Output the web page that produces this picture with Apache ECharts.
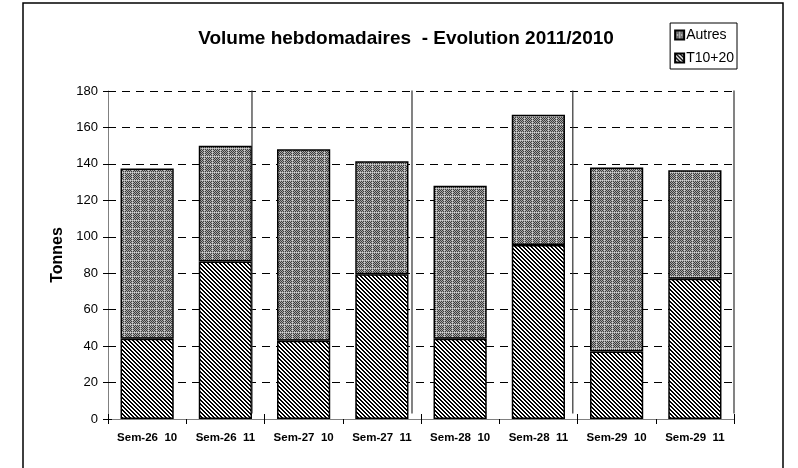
<!DOCTYPE html>
<html><head><meta charset="utf-8">
<script src="https://cdn.jsdelivr.net/npm/echarts@6/dist/echarts.min.js"></script>
<style>html,body{margin:0;padding:0;background:#fff}#c{width:798px;height:468px}</style>
</head><body><div id="c"></div>
<script>
var categories = ['Sem-26  10','Sem-26  11','Sem-27  10','Sem-27  11','Sem-28  10','Sem-28  11','Sem-29  10','Sem-29  11'];
var t1020 = [44, 86.5, 43, 79.5, 44, 95.5, 37, 77];
var autres = [93.5, 63.5, 105, 62, 84, 71.5, 101, 59.5];
var yTicks = [0,20,40,60,80,100,120,140,160,180];
var separators = [1.84, 3.885, 5.94, 8.0];

function makePattern(kind){
  var c = document.createElement('canvas');
  var ctx;
  if(kind==='stripe'){
    c.width=4;c.height=4;ctx=c.getContext('2d');
    ctx.fillStyle='#fff';ctx.fillRect(0,0,4,4);
    ctx.fillStyle='#000';
    for(var y=0;y<4;y++)for(var x=0;x<4;x++){var d=((x-y)%4+4)%4;if(d<2)ctx.fillRect(x,y,1,1);}
  } else {
    c.width=8;c.height=8;ctx=c.getContext('2d');
    for(var y=0;y<8;y++)for(var x=0;x<8;x++){
      var v=((x+y)%2===0)?'#3c3c3c':'#a8a8a8';
      if((x===4||y===4)&&((x+y)%2===0))v='#d0d0d0';
      ctx.fillStyle=v;ctx.fillRect(x,y,1,1);
    }
  }
  return c;
}
var grayPat = {image: makePattern('grey'), repeat:'repeat'};
var stripePat = {image: makePattern('stripe'), repeat:'repeat'};

var chart = echarts.init(document.getElementById('c'), null, {renderer:'canvas'});
var F = 'Liberation Sans, Arial, sans-serif';
var sepSeries = separators.map(function(x){
  return {name:'sep', type:'line', xAxisIndex:1, yAxisIndex:0, data:[[x,3],[x,183]],
    symbol:'none', silent:true, lineStyle:{color:'#303030', width:1.2}, z:3};
});
chart.setOption({
  animation:false,
  title:{text:'Volume hebdomadaires  - Evolution 2011/2010', left:401, top:24, textAlign:'center',
    textStyle:{fontFamily:F, fontSize:19, fontWeight:'bold', color:'#000'}},
  legend:{right:61, top:23, orient:'vertical', itemWidth:9, itemHeight:9, itemGap:9,
    padding:[5,3,4,4], borderColor:'#000', borderWidth:1, borderRadius:0,
    textStyle:{fontFamily:F, fontSize:14, color:'#000', padding:[0,0,0,-3]},
    data:[{name:'Autres', icon:'rect'},{name:'T10+20', icon:'rect'}]},
  grid:{left:108, right:64, top:91, bottom:49},
  xAxis:[{type:'category', data:categories, boundaryGap:true,
    axisLine:{lineStyle:{color:'#808080', width:1}},
    axisTick:{show:true, length:5, alignWithLabel:false, lineStyle:{color:'#000'}},
    axisLabel:{fontFamily:F, fontSize:11.5, fontWeight:'bold', color:'#000', margin:13, interval:0},
    splitLine:{show:false}},
   {type:'value', min:0, max:8, show:false},
   {type:'category', data:categories, position:'bottom', boundaryGap:true,
    axisLine:{show:false}, axisLabel:{show:false},
    axisTick:{show:true, inside:true, length:5, lineStyle:{color:'#000'}}}],
  yAxis:[{type:'value', min:0, max:180, interval:20,
    axisLine:{show:true, lineStyle:{color:'#808080', width:1}},
    axisTick:{show:true, length:5, lineStyle:{color:'#000'}},
    axisLabel:{fontFamily:F, fontSize:13, color:'#000', margin:10,
      formatter:function(v){return yTicks.indexOf(v)>=0?String(v):'';}},
    splitLine:{show:true, lineStyle:{color:'#000', type:[8,6], width:1}},
    name:'Tonnes', nameLocation:'middle', nameGap:42, nameRotate:90,
    nameTextStyle:{fontFamily:F, fontSize:16, fontWeight:'bold', color:'#000'}},
   {type:'value', min:0, max:180, interval:20, position:'left',
    axisLine:{show:false}, axisLabel:{show:false}, splitLine:{show:false},
    axisTick:{show:true, inside:true, length:4, lineStyle:{color:'#000'}}}],
  series:[
    {name:'T10+20', type:'bar', stack:'s', data:t1020, barWidth:'68%',
      itemStyle:{color:stripePat, borderColor:'#000', borderWidth:1.5}},
    {name:'Autres', type:'bar', stack:'s', data:autres, barWidth:'68%',
      itemStyle:{color:grayPat, borderColor:'#000', borderWidth:1.5}}
  ].concat(sepSeries),
  graphic:[{type:'rect', shape:{x:23, y:3, width:760, height:470},
    style:{fill:'none', stroke:'#000', lineWidth:1.5}, silent:true}]
});
</script></body></html>
